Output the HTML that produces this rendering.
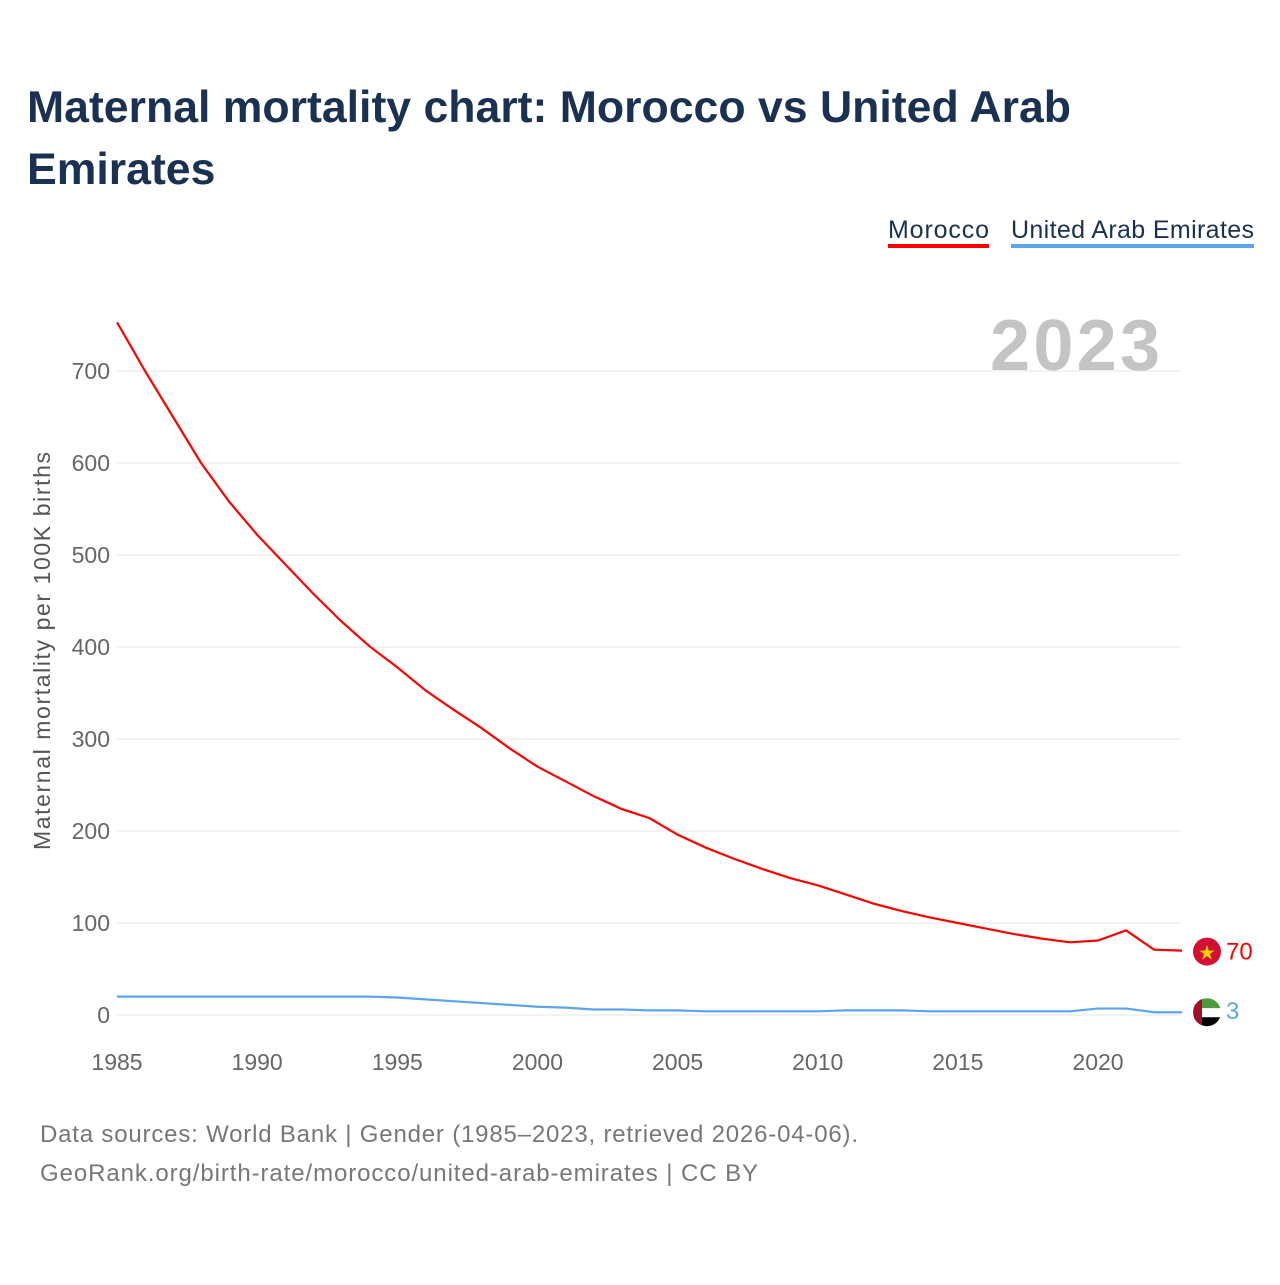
<!DOCTYPE html>
<html><head><meta charset="utf-8"><style>
body{margin:0;background:#fff;font-family:"Liberation Sans",sans-serif;}
</style></head><body>
<svg width="1280" height="1280" xmlns="http://www.w3.org/2000/svg" style="font-family:'Liberation Sans',sans-serif">
<text x="27" y="122" font-size="44.6" font-weight="bold" fill="#1a3152">Maternal mortality chart: Morocco vs United Arab</text>
<text x="27" y="184" font-size="44.6" font-weight="bold" fill="#1a3152">Emirates</text>
<g><text x="888" y="238" font-size="25" fill="#1a3152" textLength="101">Morocco</text><rect x="888" y="244" width="101" height="4" fill="#ff0000"/></g>
<g><text x="1011" y="238" font-size="25" fill="#1a3152" textLength="243">United Arab Emirates</text><rect x="1011" y="244" width="243" height="4" fill="#5aa5ee"/></g>
<text x="1160" y="370" font-size="72" font-weight="bold" fill="#c4c4c4" text-anchor="end" textLength="170">2023</text>
<g id="grid"></g><g id="yt"></g><g id="xt"></g>
<text transform="translate(50,651) rotate(-90)" font-size="23" fill="#555" text-anchor="middle" textLength="398">Maternal mortality per 100K births</text>
<path id="mor" fill="none" stroke="#ff0000" stroke-width="2.2"/>
<path id="uae" fill="none" stroke="#5aa5ee" stroke-width="2.2"/>
<g id="ends"></g>
<text x="40" y="1142" font-size="24" fill="#777" textLength="818">Data sources: World Bank | Gender (1985–2023, retrieved 2026-04-06).</text>
<text x="40" y="1181" font-size="24" fill="#777" textLength="718">GeoRank.org/birth-rate/morocco/united-arab-emirates | CC BY</text>
</svg>
<script>
const years=[];for(let y=1985;y<=2023;y++)years.push(y);
const morocco=[753,700,650,600,558,522,490,458,428,401,378,353,332,312,290,270,254,238,224,214,196,182,170,159,149,141,131,121,113,106,100,94,88,83,79,81,92,71,70];
const uae=[20,20,20,20,20,20,20,20,20,20,19,17,15,13,11,9,8,6,6,5,5,4,4,4,4,4,5,5,5,4,4,4,4,4,4,7,7,3,3];
const yTicks=[0,100,200,300,400,500,600,700];
const xTicks=[1985,1990,1995,2000,2005,2010,2015,2020];
const NS="http://www.w3.org/2000/svg";
const X=v=>117+(v-1985)*(1098-117)/35;
const Y=v=>1015-v*0.92;
function mk(t,a,p){const e=document.createElementNS(NS,t);for(const k in a)e.setAttribute(k,a[k]);document.getElementById(p).appendChild(e);return e;}
yTicks.forEach(v=>{
 const l=mk('line',{x1:117,x2:1181,y1:Y(v),y2:Y(v),stroke:'#e6e6e6','stroke-width':1},'grid');
 
 
 const t=mk('text',{x:110,y:Y(v)+8,'font-size':23,fill:'#666','text-anchor':'end'},'yt');t.textContent=v;
 
 
});
xTicks.forEach(v=>{
 const t=mk('text',{x:X(v),y:1070,'font-size':23,fill:'#666','text-anchor':'middle'},'xt');t.textContent=v;
 
 
});
document.getElementById('mor').setAttribute('d',morocco.map((v,i)=>(i?'L':'M')+X(years[i])+','+Y(v)).join(''));
document.getElementById('uae').setAttribute('d',uae.map((v,i)=>(i?'L':'M')+X(years[i])+','+Y(v)).join(''));
const lm=morocco[morocco.length-1],lu=uae[uae.length-1];
const c1=mk('circle',{cx:1207,cy:Y(lm)+1,r:14,fill:'#d21034'},'ends');


const s=mk('text',{x:1207,y:Y(lm)+9,'font-size':20,fill:'#f5d000','text-anchor':'middle'},'ends');s.textContent='★';
const t1=mk('text',{x:1226,y:Y(lm)+9,'font-size':24,fill:'#ff0000'},'ends');t1.textContent=lm;


const g=mk('g',{},'ends');
g.innerHTML='<clipPath id="cp"><circle cx="1207" cy="'+(Y(lu))+'" r="14"/></clipPath><g clip-path="url(#cp)"><rect x="1193" y="'+(Y(lu)-14)+'" width="28" height="10" fill="#4f9a3c"/><rect x="1193" y="'+(Y(lu)-4)+'" width="28" height="9" fill="#fff"/><rect x="1193" y="'+(Y(lu)+5)+'" width="28" height="10" fill="#000"/><rect x="1193" y="'+(Y(lu)-14)+'" width="9" height="28" fill="#a0102a"/></g>';
const t2=mk('text',{x:1226,y:Y(lu)+7,'font-size':24,fill:'#5aa5ee'},'ends');t2.textContent=lu;


</script>
</body></html>
